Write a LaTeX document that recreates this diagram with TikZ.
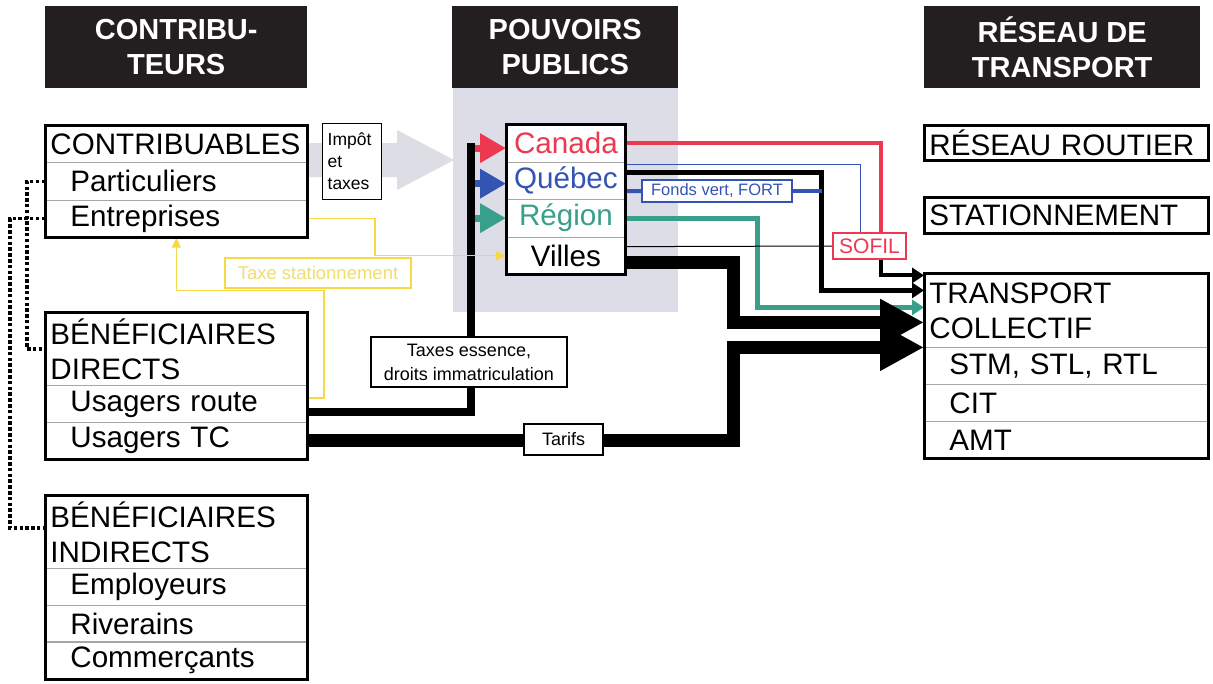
\documentclass[tikz,border=0pt]{standalone}
\usepackage{fontspec}
\setmainfont{Liberation Sans}
\usetikzlibrary{arrows.meta}
\definecolor{hdr}{RGB}{35,31,32}
\definecolor{cred}{RGB}{236,56,80}
\definecolor{cblue}{RGB}{52,84,180}
\definecolor{cgreen}{RGB}{56,160,138}
\definecolor{cyel}{RGB}{248,216,70}
\definecolor{cytext}{RGB}{240,222,110}
\definecolor{bgpp}{RGB}{221,221,231}
\definecolor{garrow}{RGB}{221,221,229}
\newcommand\ind{\hspace*{20pt}}
\newcommand\fbx{\fontsize{29.6}{35}\selectfont}
\pgfdeclarelayer{bg}
\pgfdeclarelayer{conn}
\pgfsetlayers{bg,conn,main}
\begin{document}
\begin{tikzpicture}[x=1pt,y=-1pt,
  hdrbox/.style={fill=hdr, text=white, font=\bfseries\fontsize{29}{35}\selectfont, align=center, inner sep=0, anchor=north west, minimum height=82pt},
  rowbox/.style={draw=gray!70, line width=0.8pt, anchor=north west, inner ysep=0, inner xsep=5pt, minimum height=37.3pt, font=\fbx, align=left},
  lrow/.style={rowbox, text width=252pt},
  rrow/.style={rowbox, text width=274pt},
  prow/.style={draw=gray!70, line width=0.8pt, fill=white, anchor=north west, inner sep=0, minimum width=119pt, minimum height=37.5pt, font=\fbx},
  outer/.style={draw=black, line width=3pt},
  lbl/.style={draw=black, fill=white, line width=1.3pt, inner sep=0},
  dotline/.style={black, line width=3.5pt, dash pattern=on 3.5pt off 2.3pt},
  smalltip/.style={-{Triangle[length=12pt,width=15pt]}},
  bigtip/.style={-{Triangle[length=44pt,width=44pt]}},
  coltip/.style={-{Triangle[length=26pt,width=28pt]}},
  ytip/.style={-{Triangle[length=10pt,width=9pt]}}
]
\useasboundingbox (0,0) rectangle (1213,683);
\begin{pgfonlayer}{bg}
\fill[white] (0,0) rectangle (1213,683);
\fill[bgpp] (453,88) rectangle (678,312);
\fill[garrow] (307,143) -- (397,143) -- (397,130) -- (454,160) -- (397,190) -- (397,177) -- (307,177) -- cycle;
\end{pgfonlayer}

% headers
\node[hdrbox, minimum width=262pt] (hC) at (45,6) {CONTRIBU-\\TEURS};
\node[hdrbox, minimum width=226pt] (hP) at (452,6) {POUVOIRS\\PUBLICS};
\node[hdrbox, minimum width=276pt] (hR) at (924,6) {RÉSEAU DE\\TRANSPORT};

% contribuables
\node[lrow] (contT) at (45,125) {CONTRIBUABLES};
\node[lrow] (contP) at (45,162.3) {\ind Particuliers};
\node[lrow] (contE) at (45,199.6) {\ind Entreprises};
\draw[outer] (contT.north west) rectangle (contE.south east);

% beneficiaires directs
\node[lrow, minimum height=73pt] (bdT) at (45,312) {BÉNÉFICIAIRES\\DIRECTS};
\node[lrow] (bdR) at (45,385) {\ind Usagers route};
\node[lrow] (bdC) at (45,421.5) {\ind Usagers TC};
\draw[outer] (bdT.north west) rectangle (bdC.south east);

% beneficiaires indirects
\node[lrow, minimum height=73pt] (biT) at (45,495) {BÉNÉFICIAIRES\\INDIRECTS};
\node[lrow] (biE) at (45,568) {\ind Employeurs};
\node[lrow] (biR) at (45,604.7) {\ind Riverains};
\node[lrow] (biC) at (45,641.3) {\ind Commerçants};
\draw[outer] (biT.north west) rectangle (biC.south east);

% pouvoirs publics
\node[prow, text=cred] (pCan) at (506,124) {Canada};
\node[prow, text=cblue] (pQue) at (506,161.5) {Québec};
\node[prow, text=cgreen] (pReg) at (506,199) {Région};
\node[prow] (pVil) at (506,236.5) {Villes};
\draw[outer] (pCan.north west) rectangle (pVil.south east);

% reseau de transport
\node[rrow, minimum height=35pt] (rr) at (924,125) {RÉSEAU ROUTIER};
\draw[outer] (rr.north west) rectangle (rr.south east);
\node[rrow, minimum height=36pt] (st) at (924,197) {STATIONNEMENT};
\draw[outer] (st.north west) rectangle (st.south east);
\node[rrow, minimum height=74pt] (tcT) at (924,273) {TRANSPORT\\COLLECTIF};
\node[rrow, minimum height=37pt] (tcS) at (924,347) {\ind STM, STL, RTL};
\node[rrow, minimum height=37pt] (tcC) at (924,384) {\ind CIT};
\node[rrow, minimum height=37pt] (tcA) at (924,421) {\ind AMT};
\draw[outer] (tcT.north west) rectangle (tcA.south east);

% labels
\node[lbl, anchor=north west, minimum width=59pt, minimum height=76pt, text width=49pt, inner xsep=5pt, align=left, font=\fontsize{17.5}{22}\selectfont] (impot) at (322,123) {Impôt\\et\\taxes};
\node[lbl, minimum width=196pt, minimum height=50pt, align=center, font=\fontsize{18}{24}\selectfont] (taxess) at (469,362) {Taxes essence,\\droits immatriculation};
\node[lbl, minimum width=79pt, minimum height=31pt, font=\fontsize{18}{22}\selectfont] (tarifs) at (563.5,439.5) {Tarifs};
\node[lbl, draw=cblue, text=cblue, line width=1.2pt, minimum width=150pt, minimum height=22pt, font=\fontsize{16.5}{18}\selectfont] (fonds) at (717,191) {Fonds vert, FORT};
\node[lbl, draw=cred, text=cred, line width=1.2pt, minimum width=73pt, minimum height=26pt, font=\fontsize{21}{24}\selectfont] (sofil) at (869.5,246) {SOFIL};
\node[lbl, draw=cyel, text=cytext, line width=1.5pt, minimum width=186pt, minimum height=30pt, font=\fontsize{18.5}{22}\selectfont] (taxestat) at (318,273) {Taxe stationnement};

\coordinate (bartop) at (471,143);

\begin{pgfonlayer}{conn}
% dotted links
\draw[dotline] (contP.west) -- ++(-18,0) |- (bdT.west);
\draw[dotline] (contE.west) -- ++(-35,0) |- ([yshift=4pt]biT.west);
% usagers route -> bar
\draw[black, line width=8pt] ([yshift=-8pt]bdR.east) -| (bartop);
% coloured arrows into pouvoirs publics
\draw[cred, line width=7pt, coltip] ([xshift=-31pt,yshift=-5pt]pCan.west) -- ([yshift=-5pt]pCan.west);
\draw[cblue, line width=7pt, coltip] ([xshift=-31pt,yshift=-3pt]pQue.west) -- ([yshift=-3pt]pQue.west);
\draw[cgreen, line width=7pt, coltip] ([xshift=-31pt]pReg.west) -- (pReg.west);
% yellow
\draw[cyel, line width=1.5pt, ytip] (contE.east) -- ++(67,0) |- (pVil.west);
\draw[cyel, line width=1.5pt, ytip] ([yshift=6pt]bdR.east) -- ++(16,0) -- ++(0,-107.6) -| (contE.south);
% outputs
\draw[cred, line width=4pt] (pCan.east) -| ([xshift=11.5pt]sofil.north);
\draw[cblue, line width=1pt] ([yshift=16.5pt]pQue.east) -| ([xshift=-9.5pt]sofil.north);
\draw[black, line width=5pt, smalltip] ([yshift=8.5pt]pQue.east) -- ++(196,0) |- ([yshift=20pt]tcT.west);
\draw[cblue, line width=4pt] ([yshift=-10.5pt]pQue.east) -- (fonds.west);
\draw[cblue, line width=4pt] (fonds.east) -- ++(29,0);
\draw[cgreen, line width=5pt, smalltip] (pReg.east) -- ++(132,0) |- ([yshift=3pt]tcT.west);
\draw[black, line width=1pt] ([yshift=9pt]pVil.east) -- (sofil.west);
\draw[black, line width=4pt, smalltip] ([xshift=11.5pt]sofil.south) |- ([yshift=35pt]tcT.west);
\draw[black, line width=13pt, bigtip] ([yshift=-7pt]pVil.east) -- ++(108,0) |- ([yshift=-12pt]tcT.west);
\draw[black, line width=13pt, bigtip] (bdC.east) -- ++(426,0) |- ([yshift=-37pt]tcT.west);
\end{pgfonlayer}
\end{tikzpicture}
\end{document}
